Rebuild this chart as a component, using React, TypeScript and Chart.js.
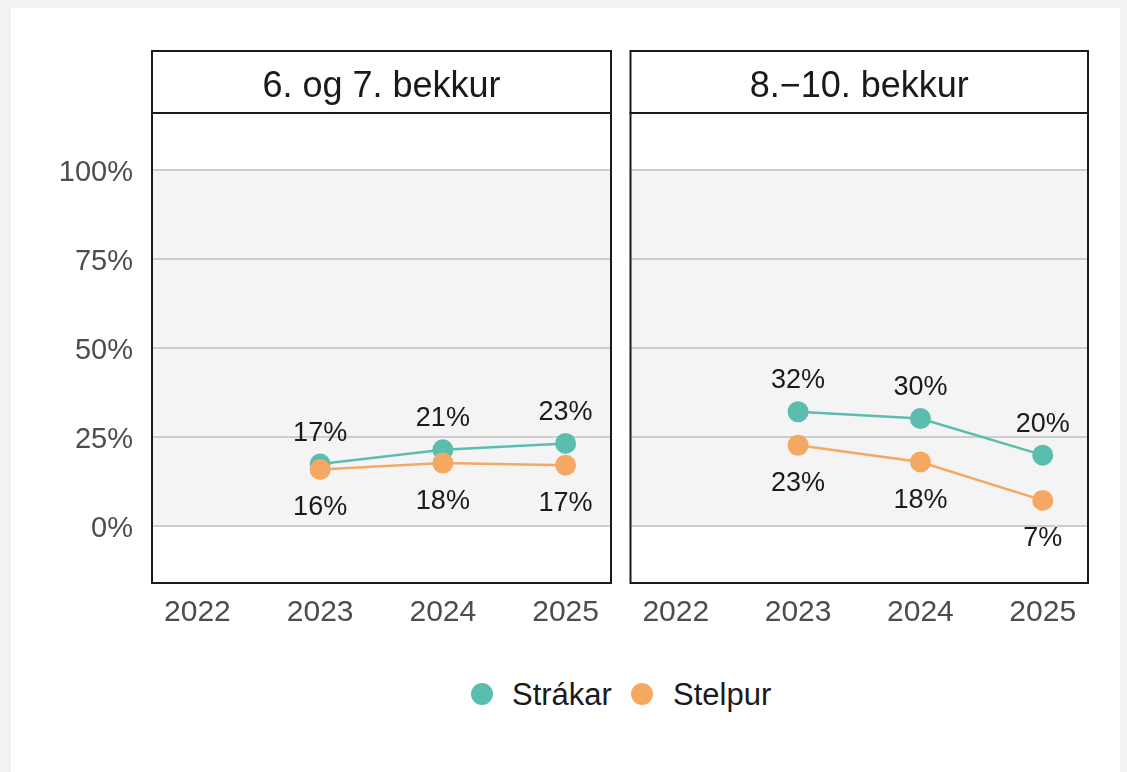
import React, { useEffect, useRef } from 'react';
import { Chart, registerables } from 'chart.js';

Chart.register(...registerables);

// ---- data ----
const tickYears = [2022, 2023, 2024, 2025];
const dataYears = [2023, 2024, 2025];
const yTicks = [0, 25, 50, 75, 100];
const panelTitles = ['6. og 7. bekkur', '8.\u221210. bekkur'];
const seriesNames = ['Strákar', 'Stelpur'];
const strakar6_7 = [17.4, 21.4, 23.2];
const stelpur6_7 = [15.9, 17.7, 17.1];
const strakar8_10 = [32.1, 30.2, 19.9];
const stelpur8_10 = [22.7, 18.0, 7.2];

// ---- style ----
const FONT = "'Liberation Sans', Arial, Helvetica, sans-serif";
const GREEN = '#5BBDAE';
const ORANGE = '#F4A862';
const INK = '#1a1a1a';
const TICK = '#4d4d4d';

const facetPlugin = {
  id: 'facet',
  beforeDraw(chart: any) {
    const { ctx, chartArea: a, scales } = chart;
    const y = scales.y;
    const y0 = y.getPixelForValue(0);
    const y100 = y.getPixelForValue(100);
    ctx.save();
    ctx.fillStyle = '#f4f4f4';
    ctx.fillRect(a.left, y100, a.right - a.left, y0 - y100);
    ctx.restore();
  },
  afterDatasetsDraw(chart: any) {
    const { ctx } = chart;
    const size = 27;
    ctx.save();
    ctx.font = `${size}px ${FONT}`;
    ctx.fillStyle = INK;
    ctx.textAlign = 'center';
    ctx.textBaseline = 'alphabetic';
    chart.data.datasets.forEach((ds: any, i: number) => {
      const meta = chart.getDatasetMeta(i);
      meta.data.forEach((pt: any, j: number) => {
        const v = ds.data[j].y;
        const txt = Math.round(v) + '%';
        const cy = ds.labelPos === 'above' ? pt.y - 33 : pt.y + 36;
        ctx.fillText(txt, pt.x, cy + 0.358 * size);
      });
    });
    ctx.restore();
  },
  afterDraw(chart: any) {
    const { ctx, chartArea: a } = chart;
    const title = chart.options.plugins.facet.title;
    const stripH = 62;
    const w = a.right - a.left;
    const top = a.top - stripH;
    ctx.save();
    ctx.fillStyle = '#ffffff';
    ctx.fillRect(a.left, top, w, stripH);
    ctx.strokeStyle = INK;
    ctx.lineWidth = 2;
    ctx.strokeRect(a.left, top, w, stripH);
    ctx.strokeRect(a.left, a.top, w, a.bottom - a.top);
    const size = 36;
    ctx.font = `${size}px ${FONT}`;
    ctx.fillStyle = INK;
    ctx.textAlign = 'center';
    ctx.textBaseline = 'alphabetic';
    ctx.fillText(title, (a.left + a.right) / 2, top + stripH / 2 + 2 + 0.358 * size);
    ctx.restore();
  },
};

type PanelProps = {
  title: string;
  strakar: number[];
  stelpur: number[];
  showY: boolean;
  left: number;
  width: number;
  yWidth: number;
  padRight: number;
};

const HEIGHT = 660;

function Panel({ title, strakar, stelpur, showY, left, width, yWidth, padRight }: PanelProps) {
  const ref = useRef<HTMLCanvasElement | null>(null);
  useEffect(() => {
    if (!ref.current) return;
    const chart = new Chart(ref.current, {
      type: 'line',
      data: {
        datasets: [
          {
            label: seriesNames[0],
            data: dataYears.map((x, i) => ({ x, y: strakar[i] })),
            borderColor: GREEN,
            backgroundColor: GREEN,
            pointBackgroundColor: GREEN,
            pointBorderWidth: 0,
            pointRadius: 10.5,
            borderWidth: 2.5,
            order: 2,
            labelPos: 'above',
          } as any,
          {
            label: seriesNames[1],
            data: dataYears.map((x, i) => ({ x, y: stelpur[i] })),
            borderColor: ORANGE,
            backgroundColor: ORANGE,
            pointBackgroundColor: ORANGE,
            pointBorderWidth: 0,
            pointRadius: 10.5,
            borderWidth: 2.5,
            order: 1,
            labelPos: 'below',
          } as any,
        ],
      },
      options: {
        responsive: false,
        maintainAspectRatio: false,
        animation: false,
        layout: { padding: { top: 113, right: padRight, left: 0, bottom: 0 } },
        scales: {
          x: {
            type: 'linear',
            min: 2021.63,
            max: 2025.37,
            afterBuildTicks: (s: any) => {
              s.ticks = tickYears.map((v) => ({ value: v }));
            },
            afterFit: (s: any) => {
              s.height = HEIGHT - 583;
            },
            grid: { display: false },
            border: { display: false },
            ticks: {
              font: { size: 30, family: FONT },
              color: TICK,
              padding: 4,
              maxRotation: 0,
              callback: (v: any) => String(v),
            },
          },
          y: {
            min: -16,
            max: 116,
            afterBuildTicks: (s: any) => {
              s.ticks = yTicks.map((v) => ({ value: v }));
            },
            afterFit: (s: any) => {
              s.width = yWidth;
            },
            grid: { color: '#cecece', lineWidth: 2, drawTicks: false },
            border: { display: false },
            ticks: {
              display: showY,
              font: { size: 29, family: FONT },
              color: TICK,
              padding: 19,
              labelOffset: 3,
              callback: (v: any) => v + '%',
            },
          },
        },
        plugins: {
          legend: { display: false },
          tooltip: { enabled: false },
          facet: { title },
        } as any,
      },
      plugins: [facetPlugin],
    });
    return () => chart.destroy();
  }, []);
  return (
    <canvas
      ref={ref}
      width={width}
      height={HEIGHT}
      style={{ position: 'absolute', left, top: 0, width, height: HEIGHT }}
    />
  );
}

export default function App() {
  return (
    <div
      style={{
        position: 'absolute',
        left: 0,
        top: 0,
        width: 1127,
        height: 772,
        background: '#f2f2f2',
        overflow: 'hidden',
        fontFamily: FONT,
      }}
    >
      <div style={{ position: 'absolute', left: 11, top: 8, width: 1109, height: 764, background: '#ffffff' }} />
      <Panel title={panelTitles[0]} strakar={strakar6_7} stelpur={stelpur6_7} showY={true} left={0} width={625} yWidth={152} padRight={14} />
      <Panel title={panelTitles[1]} strakar={strakar8_10} stelpur={stelpur8_10} showY={false} left={620} width={490} yWidth={8} padRight={22} />
      <div style={{ position: 'absolute', left: 471, top: 683, width: 22, height: 22, borderRadius: '50%', background: GREEN }} />
      <div style={{ position: 'absolute', left: 512, top: 679, fontSize: 31, lineHeight: '31px', color: INK, whiteSpace: 'nowrap' }}>
        {seriesNames[0]}
      </div>
      <div style={{ position: 'absolute', left: 631, top: 683, width: 22, height: 22, borderRadius: '50%', background: ORANGE }} />
      <div style={{ position: 'absolute', left: 673, top: 679, fontSize: 31, lineHeight: '31px', color: INK, whiteSpace: 'nowrap' }}>
        {seriesNames[1]}
      </div>
    </div>
  );
}
